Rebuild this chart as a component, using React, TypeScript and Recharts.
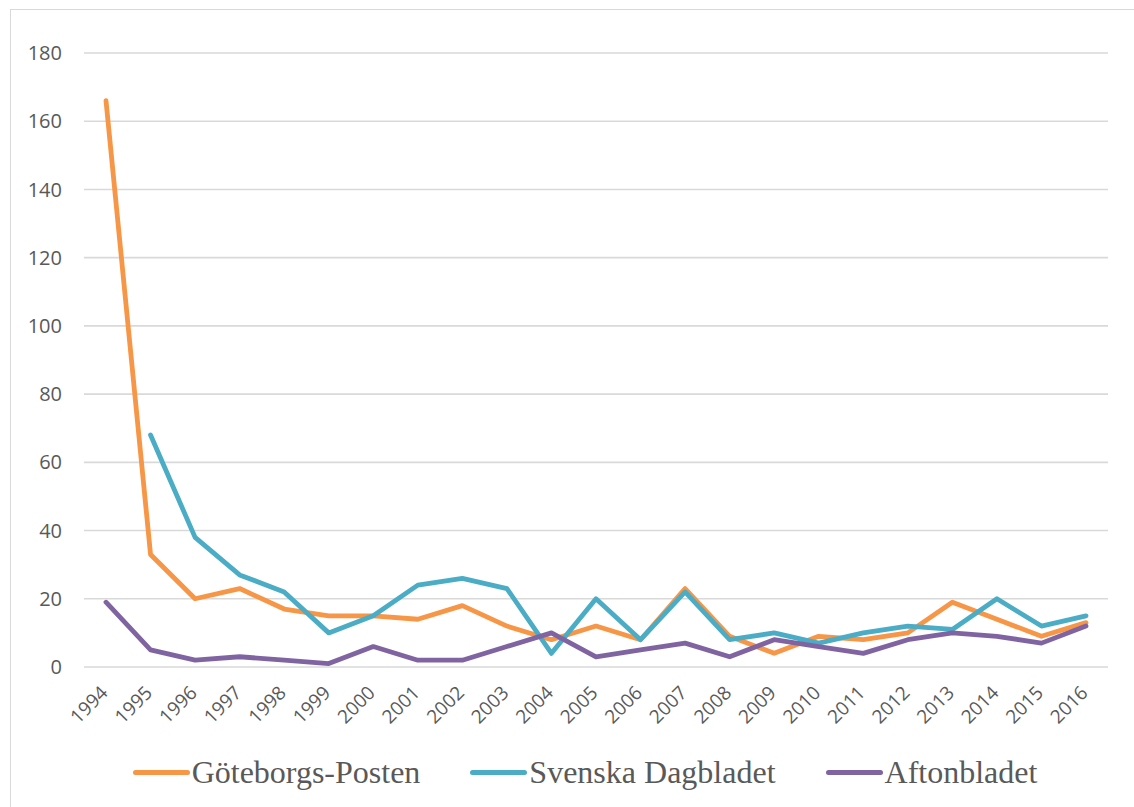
import { LineChart, Line, XAxis, YAxis, CartesianGrid, Legend } from "recharts";

const years = [
  "1994", "1995", "1996", "1997", "1998", "1999", "2000", "2001", "2002", "2003", "2004", "2005",
  "2006", "2007", "2008", "2009", "2010", "2011", "2012", "2013", "2014", "2015", "2016",
];
const goteborgsPosten = [166, 33, 20, 23, 17, 15, 15, 14, 18, 12, 8, 12, 8, 23, 9, 4, 9, 8, 10, 19, 14, 9, 13];
const svenskaDagbladet = [null, 68, 38, 27, 22, 10, 15, 24, 26, 23, 4, 20, 8, 22, 8, 10, 7, 10, 12, 11, 20, 12, 15];
const aftonbladet = [19, 5, 2, 3, 2, 1, 6, 2, 2, 6, 10, 3, 5, 7, 3, 8, 6, 4, 8, 10, 9, 7, 12];
const yTicks = [0, 20, 40, 60, 80, 100, 120, 140, 160, 180];

const series = [
  { key: "gp", name: "Göteborgs-Posten", color: "#F79646" },
  { key: "svd", name: "Svenska Dagbladet", color: "#4BACC6" },
  { key: "ab", name: "Aftonbladet", color: "#8064A2" },
];

const data = years.map((year, i) => ({
  year,
  gp: goteborgsPosten[i],
  svd: svenskaDagbladet[i],
  ab: aftonbladet[i],
}));

const YearTick = (props: any) => {
  const { x, y, payload } = props;
  return (
    <text
      transform={`translate(${x + 3},${y + 27}) rotate(-45)`}
      textAnchor="end"
      fontFamily="'Open Sans', sans-serif"
      fontSize={19}
      fill="#595959"
    >
      {payload.value}
    </text>
  );
};

const LegendBox = () => (
  <div
    style={{
      display: "flex",
      justifyContent: "center",
      alignItems: "center",
      height: 50,
      paddingLeft: 62,
      fontFamily: "'Liberation Serif', 'Times New Roman', serif",
      fontSize: 32,
      color: "#595959",
    }}
  >
    {series.map((s, i) => (
      <div key={s.key} style={{ display: "flex", alignItems: "center", marginLeft: i === 0 ? 0 : 50 }}>
        <div style={{ width: 57, height: 5, borderRadius: 3, background: s.color, marginRight: 2 }} />
        <span>{s.name}</span>
      </div>
    ))}
  </div>
);

const App = () => {
  return (
    <div
      style={{
        position: "absolute",
        left: 0,
        top: 0,
        width: 1134,
        height: 807,
        background: "#fff",
        overflow: "hidden",
      }}
    >
      <div
        style={{
          position: "absolute",
          left: 10,
          top: 9,
          width: 1140,
          height: 820,
          border: "1.5px solid #D9D9D9",
        }}
      />
      <LineChart
        width={1134}
        height={807}
        data={data}
        margin={{ top: 53, right: 26, bottom: 10, left: 0 }}
      >
        <CartesianGrid vertical={false} stroke="#D9D9D9" strokeWidth={1.6} />
        <XAxis
          dataKey="year"
          axisLine={false}
          tickLine={false}
          tickSize={0}
          tickMargin={0}
          interval={0}
          height={80}
          padding={{ left: 22, right: 22 }}
          tick={<YearTick />}
        />
        <YAxis
          domain={[0, 180]}
          ticks={yTicks}
          axisLine={false}
          tickLine={false}
          tickSize={0}
          tickMargin={22}
          width={84}
          tick={{ fill: "#595959", fontSize: 20, fontFamily: "'Open Sans', sans-serif" }}
        />
        <Legend verticalAlign="bottom" height={50} content={<LegendBox />} />
        {series.map((s) => (
          <Line
            key={s.key}
            dataKey={s.key}
            name={s.name}
            stroke={s.color}
            strokeWidth={4.8}
            strokeLinejoin="round"
            strokeLinecap="round"
            dot={false}
            activeDot={false}
            type="linear"
            isAnimationActive={false}
          />
        ))}
      </LineChart>
    </div>
  );
};

export default App;
